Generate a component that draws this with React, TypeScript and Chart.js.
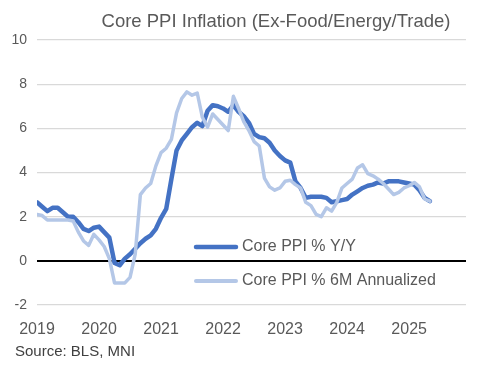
import React, { useEffect, useRef } from "react";
import { Chart, registerables } from "chart.js";

Chart.register(...registerables);

// Monthly data, Jan 2019 .. May 2025
const yoy: number[] = [
  2.65, 2.45, 2.25, 2.4, 2.4, 2.2, 2.0, 2.0, 1.75, 1.45, 1.35, 1.5,
  1.55, 1.3, 1.05, -0.1, -0.2, 0.1, 0.3, 0.55, 0.8, 1.0, 1.15, 1.45,
  1.95, 2.35, 3.7, 5.0, 5.45, 5.75, 6.05, 6.25, 6.1, 6.8, 7.05, 7.0,
  6.9, 6.75, 7.05, 6.75, 6.55, 6.25, 5.75, 5.6, 5.55, 5.35, 5.0, 4.75,
  4.55, 4.45, 3.6, 3.3, 2.85, 2.9, 2.9, 2.9, 2.85, 2.65, 2.7, 2.75,
  2.8, 3.0, 3.15, 3.3, 3.4, 3.45, 3.55, 3.5, 3.6, 3.6, 3.6, 3.55,
  3.5, 3.45, 3.2, 2.85, 2.7,
];

const sixM: number[] = [
  2.1, 2.05, 1.85, 1.85, 1.85, 1.85, 1.85, 1.8, 1.3, 0.9, 0.7, 1.2,
  0.95, 0.65, 0.1, -1.0, -1.0, -1.0, -0.75, 0.3, 3.0, 3.3, 3.5, 4.3,
  4.9, 5.1, 5.5, 6.7, 7.35, 7.65, 7.5, 7.6, 6.5, 6.05, 6.65, 6.4,
  6.15, 5.9, 7.45, 6.9, 6.3, 5.9, 5.4, 5.2, 3.75, 3.35, 3.2, 3.3,
  3.6, 3.65, 3.45, 3.3, 2.65, 2.5, 2.1, 2.0, 2.4, 2.25, 2.65, 3.3,
  3.5, 3.7, 4.2, 4.35, 3.95, 3.85, 3.7, 3.5, 3.25, 3.0, 3.1, 3.3,
  3.4, 3.55, 3.35, 2.8, 2.7,
];

const yearLabels: string[] = ["2019", "2020", "2021", "2022", "2023", "2024", "2025"];
const yTicks: number[] = [-2, 0, 2, 4, 6, 8, 10];
const seriesNames: string[] = ["Core PPI % Y/Y", "Core PPI % 6M Annualized"];
const titleText = "Core PPI Inflation (Ex-Food/Energy/Trade)";
const sourceText = "Source: BLS, MNI";
const lastMonthIndex = 83; // Dec 2025

const FONT = "'Liberation Sans', Arial, sans-serif";
const DARK = "#4472C4";
const LIGHT = "#B4C7E7";
const TEXT = "#595959";

const decorPlugin = {
  id: "decor",
  afterDraw(chart: any) {
    const { ctx, chartArea } = chart;
    ctx.save();
    // title
    ctx.fillStyle = TEXT;
    ctx.font = `18.5px ${FONT}`;
    ctx.textAlign = "center";
    ctx.textBaseline = "middle";
    ctx.fillText(titleText, 276, 22);
    // source
    ctx.fillStyle = "#404040";
    ctx.font = `15px ${FONT}`;
    ctx.textAlign = "left";
    ctx.fillText(sourceText, 15, 352);
    // legend
    const items = [
      { color: DARK, width: 4.5, y: 247, label: seriesNames[0] },
      { color: LIGHT, width: 4, y: 281, label: seriesNames[1] },
    ];
    const lx0 = chartArea.left + 159;
    const lx1 = chartArea.left + 199;
    items.forEach((it) => {
      ctx.strokeStyle = it.color;
      ctx.lineWidth = it.width;
      ctx.lineCap = "round";
      ctx.beginPath();
      ctx.moveTo(lx0, it.y);
      ctx.lineTo(lx1, it.y);
      ctx.stroke();
      ctx.fillStyle = TEXT;
      ctx.font = `16px ${FONT}`;
      ctx.textAlign = "left";
      ctx.textBaseline = "middle";
      ctx.fillText(it.label, lx1 + 6, it.y);
    });
    ctx.restore();
  },
};

export default function App() {
  const ref = useRef<HTMLCanvasElement>(null);
  useEffect(() => {
    const canvas = ref.current;
    if (!canvas) return;
    const chart = new Chart(canvas, {
      type: "line",
      data: {
        datasets: [
          {
            label: seriesNames[1],
            data: sixM.map((v, i) => ({ x: i, y: v })),
            borderColor: LIGHT,
            borderWidth: 3.5,
            pointRadius: 0,
            tension: 0,
            borderJoinStyle: "round",
            borderCapStyle: "round",
            order: 0,
          },
          {
            label: seriesNames[0],
            data: yoy.map((v, i) => ({ x: i, y: v })),
            borderColor: DARK,
            borderWidth: 4.5,
            pointRadius: 0,
            tension: 0,
            borderJoinStyle: "round",
            borderCapStyle: "round",
            order: 1,
          },
        ],
      },
      options: {
        responsive: false,
        animation: false,
        devicePixelRatio: 1,
        layout: { padding: { left: 0, right: 28, top: 40, bottom: 0 } },
        plugins: {
          legend: { display: false },
          tooltip: { enabled: false },
          title: { display: false },
        },
        scales: {
          x: {
            type: "linear",
            min: 0,
            max: lastMonthIndex,
            afterBuildTicks: (scale: any) => {
              scale.ticks = yearLabels.map((_, i) => ({ value: i * 12 }));
            },
            afterFit: (scale: any) => {
              scale.height = 67;
            },
            ticks: {
              autoSkip: false,
              maxRotation: 0,
              padding: 15,
              color: TEXT,
              font: { family: FONT, size: 16 },
              callback: (v: any) => yearLabels[Math.round(Number(v) / 12)] ?? "",
            },
            grid: { display: false, drawTicks: false },
            border: { display: false },
          },
          y: {
            min: -2,
            max: 10,
            afterBuildTicks: (scale: any) => {
              scale.ticks = yTicks.map((v) => ({ value: v }));
            },
            afterFit: (scale: any) => {
              scale.width = 37;
            },
            ticks: {
              padding: 10,
              color: TEXT,
              font: { family: FONT, size: 14 },
            },
            grid: {
              drawTicks: false,
              color: (c: any) => (c.tick && c.tick.value === 0 ? "#000000" : "#D9D9D9"),
              lineWidth: (c: any) => (c.tick && c.tick.value === 0 ? 2 : 1.2),
            },
            border: { display: false },
          },
        },
      },
      plugins: [decorPlugin],
    });
    return () => chart.destroy();
  }, []);
  return (
    <div style={{ position: "absolute", left: 0, top: 0, width: 494, height: 372, background: "#fff" }}>
      <canvas ref={ref} width={494} height={372} />
    </div>
  );
}
